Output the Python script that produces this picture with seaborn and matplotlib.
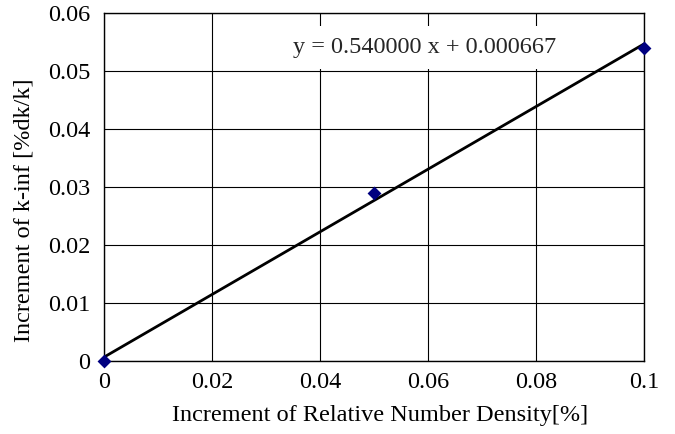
import numpy as np
import pandas as pd
import matplotlib
matplotlib.use("Agg")
import matplotlib.pyplot as plt
import seaborn as sns

# Measured increments
density_increment = [0.0, 0.05, 0.1]      # Increment of relative number density [%]
kinf_increment = [0.0, 0.029, 0.054]      # Increment of k-inf [%dk/k]

x_ticks = [0, 0.02, 0.04, 0.06, 0.08, 0.1]
x_tick_labels = ["0", "0.02", "0.04", "0.06", "0.08", "0.1"]
y_ticks = [0, 0.01, 0.02, 0.03, 0.04, 0.05, 0.06]
y_tick_labels = ["0", "0.01", "0.02", "0.03", "0.04", "0.05", "0.06"]

df = pd.DataFrame({"x": density_increment, "y": kinf_increment})

sns.set_theme(style="white")
plt.rcParams["font.family"] = ["Liberation Serif", "DejaVu Serif"]

FS = 17.5
W, H = 675, 434
fig = plt.figure(figsize=(W / 100, H / 100), dpi=100)
ax = fig.add_axes([104 / W, (H - 361) / H, 540 / W, 348 / H])

slope, intercept = np.polyfit(df["x"], df["y"], 1)

sns.regplot(data=df, x="x", y="y", ci=None, ax=ax, truncate=True,
            marker="D",
            scatter_kws={"color": "#000080", "s": 50, "zorder": 4,
                         "linewidths": 0, "alpha": 1, "clip_on": False},
            line_kws={"color": "black", "lw": 2, "zorder": 3})

ax.set_xlim(0, 0.1)
ax.set_ylim(0, 0.06)
ax.set_xticks(x_ticks)
ax.set_xticklabels(x_tick_labels)
ax.set_yticks(y_ticks)
ax.set_yticklabels(y_tick_labels)
ax.tick_params(length=0, labelsize=FS, colors="black")
ax.tick_params(axis="y", pad=10)
ax.tick_params(axis="x", pad=8)
ax.grid(True, color="black", lw=0.8)
ax.set_axisbelow(True)
for s in ax.spines.values():
    s.set_color("black")
    s.set_linewidth(1.0)
    s.set_visible(True)

ax.set_xlabel("Increment of Relative Number Density[%]", fontsize=FS, color="black")
ax.set_ylabel("Increment of k-inf [%dk/k]", fontsize=FS, color="black")
ax.xaxis.set_label_coords((380 - 104) / 540, -(415 - 361) / 348)
ax.yaxis.set_label_coords(-(104 - 24) / 540, (361 - 210) / 348)
ax.xaxis.label.set_va("center")
ax.yaxis.label.set_va("center")

ax.text(0.0594, 0.0541, f"y = {slope:.6f} x + {intercept:.6f}",
        fontsize=FS, ha="center", va="center", zorder=2,
        bbox=dict(facecolor="white", edgecolor="none", pad=8))

fig.savefig("out.png", dpi=100)
